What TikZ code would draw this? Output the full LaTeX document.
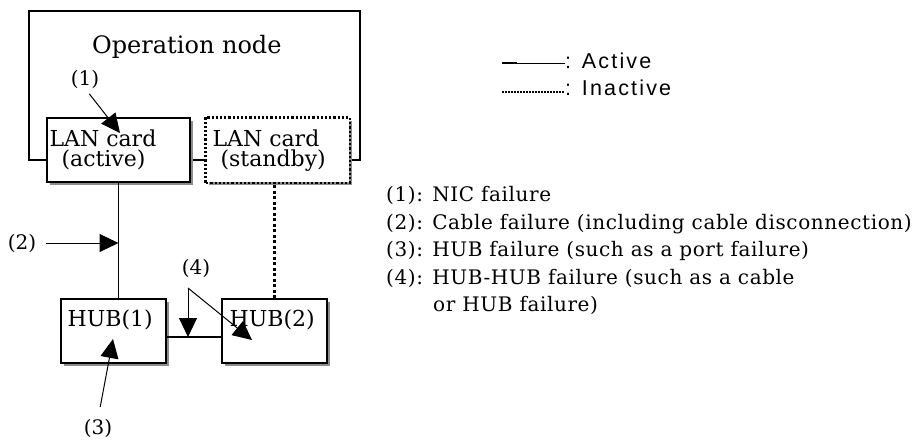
\documentclass[tikz,border=0pt]{standalone}
\usepackage{fontspec}
\setmainfont{DejaVu Serif}
\newfontfamily\legfont[LetterSpace=10]{Liberation Sans}
\newfontfamily\listfont[LetterSpace=3]{DejaVu Serif}
\usetikzlibrary{arrows.meta,shadows}
\tikzset{
  shad/.style={drop shadow={shadow xshift=3pt,shadow yshift=-3pt,fill=black!45,opacity=1}},
  cardbox/.style={draw, line width=1.2pt, fill=white, minimum width=143pt, minimum height=64pt, inner sep=0pt, shad},
  hubbox/.style={draw, line width=1.2pt, fill=white, minimum width=105pt, minimum height=64pt, inner sep=0pt, shad},
  inner/.style={anchor=base west, inner sep=0pt, font=\fontsize{22}{26}\selectfont},
  lbl/.style={inner sep=0pt, font=\fontsize{20}{24}\selectfont},
  listtxt/.style={anchor=base west, inner sep=0pt, font=\listfont\fontsize{20}{24}\selectfont},
  legtxt/.style={anchor=base west, inner sep=0pt, font=\legfont\fontsize{21.5}{25}\selectfont},
  cable/.style={line width=1.2pt},
  inactive/.style={line width=3pt, dash pattern=on 3pt off 2.5pt},
  arr/.style={line width=1pt, -{Triangle[length=19pt,width=18pt]}},
}
\begin{document}
\begin{tikzpicture}[x=1pt,y=-1pt]
\useasboundingbox (0,0) rectangle (916,442);
% operation node frame
\node[draw, line width=1.2pt, minimum width=331pt, minimum height=149pt, inner sep=0pt] (frame) at (194.5,85.5) {};
\node[anchor=base west, inner sep=0pt, font=\fontsize{24}{28}\selectfont] (optext) at (92,53) {Operation node};
% LAN cards
\node[cardbox] (lan1) at (118.5,150) {};
\node[cardbox, draw=none] (lan2) at (277.5,150) {};
\draw[line width=2.2pt, dash pattern=on 2.2pt off 2pt] (lan2.south west) rectangle (lan2.north east);
\node[inner] (lan1a) at ([shift={(3,29)}]lan1.north west) {LAN card};
\node[inner] (lan1b) at ([shift={(15,49)}]lan1.north west) {(active)};
\node[inner] (lan2a) at ([shift={(7,29)}]lan2.north west) {LAN card};
\node[inner] (lan2b) at ([shift={(15,49)}]lan2.north west) {(standby)};
% HUBs
\node[hubbox] (hub1) at (113.5,331) {};
\node[hubbox] (hub2) at (274.5,331) {};
\node[inner] (hub1t) at ([shift={(7,28)}]hub1.north west) {HUB(1)};
\node[inner] (hub2t) at ([shift={(8,28)}]hub2.north west) {HUB(2)};
% cables
\draw[cable] (lan1.south) -- (lan1.south |- hub1.north);
\draw[inactive] (hub2.north) -- (hub2.north |- lan2.south);
\draw[cable] ([yshift=-6pt]hub1.east) -- ([yshift=-6pt]hub2.west);
% failure labels and arrows
\node[lbl] (l1) at (85,79) {(1)};
\coordinate (t1) at (120,133);
\draw[arr, shorten <=7pt] (l1.south) -- (t1);
\node[lbl] (l2) at (22,243) {(2)};
\draw[arr, shorten <=10pt] (l2.east) -- (l2.east -| lan1.south);
\node[lbl] (l3) at (98,428) {(3)};
\coordinate (t3) at (113,339);
\draw[arr, shorten <=12pt] (l3.north) -- (t3);
\node[lbl] (l4) at (196,268) {(4)};
\coordinate (c4) at (188,288);
\coordinate (t4) at (252,340);
\draw[arr] (c4) -- (c4 |- 0,337);
\draw[arr] (c4) -- (t4);
% legend
\coordinate (la1) at (502,63);
\coordinate (la2) at (565,63);
\draw[line width=1pt] (la1) -- (la2);
\draw[line width=2.5pt] (la1) -- ++(15,0);
\node[legtxt] (lat) at (565,68.3) {: Active};
\coordinate (li1) at (502,92);
\coordinate (li2) at (565,92);
\draw[line width=1.2pt, dash pattern=on 1.5pt off 1.5pt] (li1) -- (li2);
\node[legtxt] (lit) at (565,95) {: Inactive};
% list
\node[listtxt] (i1) at (386,201.5) {(1): NIC failure};
\node[listtxt] (i2) at (386,229) {(2): Cable failure (including cable disconnection)};
\node[listtxt] (i3) at (386,256.5) {(3): HUB failure (such as a port failure)};
\node[listtxt] (i4) at (386,284) {(4): HUB-HUB failure (such as a cable};
\node[listtxt] (i5) at (433,311.5) {or HUB failure)};
\end{tikzpicture}
\end{document}
